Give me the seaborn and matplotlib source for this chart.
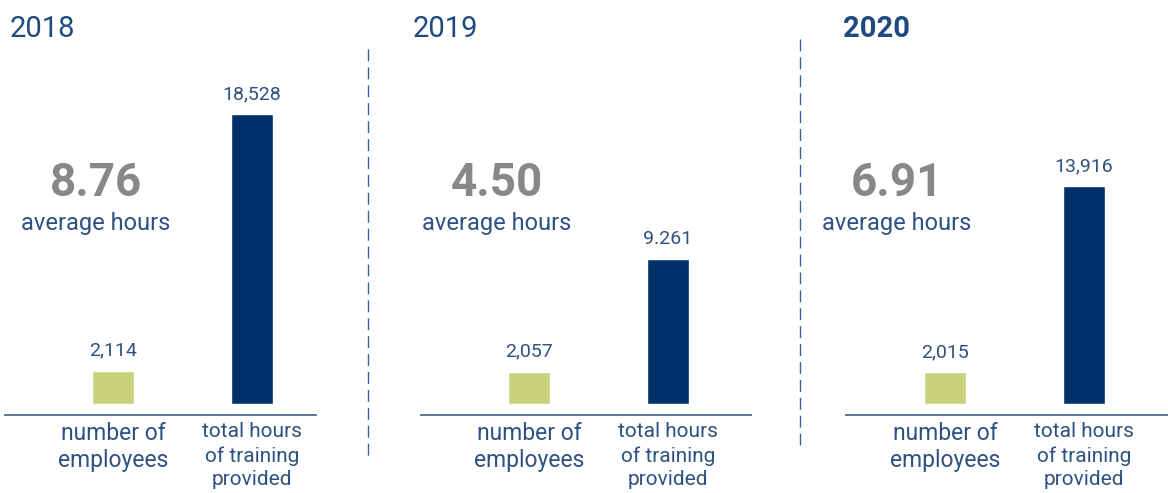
import matplotlib
matplotlib.use("Agg")
import matplotlib.pyplot as plt
from matplotlib.lines import Line2D
import seaborn as sns
import pandas as pd

# Data
years = ["2018", "2019", "2020"]
categories = ["number of\nemployees", "total hours\nof training\nprovided"]
employees = [2114, 2057, 2015]
training_hours = [18528, 9261, 13916]
average_hours = ["8.76", "4.50", "6.91"]
employee_labels = ["2,114", "2,057", "2,015"]
hours_labels = ["18,528", "9.261", "13,916"]

sns.set_style("white")
plt.rcParams["font.family"] = ["Roboto", "DejaVu Sans"]

NAVY = "#00316a"
GREEN = "#c8d27b"
TEXT = "#2e5181"
TITLE = "#1f4a80"
GREY = "#88888b"
RULE = "#4a6a93"

W, H = 1168, 493
fig = plt.figure(figsize=(W / 100, H / 100), dpi=100)


def fx(px):
    return px / W


def fy(py):
    return 1 - py / H


# panel geometry in pixels: baseline start/end, first bar centre, title x, average text centre
panels = [
    dict(start=5, end=316, c0=113, title_x=10, avg_x=96, bold=False),
    dict(start=421, end=751, c0=529, title_x=413, avg_x=497, bold=False),
    dict(start=846, end=1168, c0=945, title_x=843, avg_x=897, bold=True),
]
STEP = 139          # pixel distance between the two bars
BAR_W = 42 / STEP   # bar width in category units
TOP, BOTTOM = 114, 404
ymax = max(training_hours)

for i, p in enumerate(panels):
    ax = fig.add_axes([fx(p["start"]), fy(BOTTOM), fx(p["end"] - p["start"]),
                       (BOTTOM - TOP) / H])
    df = pd.DataFrame({"category": categories,
                       "value": [employees[i], training_hours[i]]})
    sns.barplot(data=df, x="category", y="value", hue="category",
                palette=[GREEN, NAVY], width=BAR_W, ax=ax, legend=False,
                saturation=1)
    ax.set_xlim((p["start"] - p["c0"]) / STEP,
                1 + (p["end"] - (p["c0"] + STEP)) / STEP)
    ax.set_ylim(0, ymax)
    ax.set_xlabel("")
    ax.set_ylabel("")
    ax.set_yticks([])
    for s in ["top", "right", "left"]:
        ax.spines[s].set_visible(False)
    ax.spines["bottom"].set_position(("outward", 8))
    ax.spines["bottom"].set_color(RULE)
    ax.spines["bottom"].set_linewidth(1.3)
    ax.tick_params(axis="x", length=0, pad=5)
    ticklabels = ax.get_xticklabels()
    for t, fs in zip(ticklabels, [16.5, 15]):
        t.set_fontsize(fs)
        t.set_color(TEXT)
        t.set_linespacing(1.22 if fs > 16 else 1.32)
    ax.patch.set_alpha(0)

    for cont, lab in zip(ax.containers, [employee_labels[i], hours_labels[i]]):
        ax.bar_label(cont, labels=[lab], padding=8, fontsize=14, color=TEXT)

    # year heading
    fig.text(fx(p["title_x"]), fy(37), years[i], fontsize=21, color=TITLE,
             fontweight="bold" if p["bold"] else "normal", va="baseline", ha="left")
    # average hours figure
    fig.text(fx(p["avg_x"]), fy(196), average_hours[i], fontsize=33, color=GREY,
             fontweight="bold", va="baseline", ha="center")
    fig.text(fx(p["avg_x"]), fy(230), "average hours", fontsize=17, color=TEXT,
             va="baseline", ha="center")

# dashed separators between years
for x, y0, y1 in [(368, 49, 456), (800.5, 39, 445)]:
    fig.add_artist(Line2D([fx(x), fx(x)], [fy(y0), fy(y1)], transform=fig.transFigure,
                          color="#3a6196", linewidth=1.0, linestyle=(0, (8.6, 4.3))))

fig.savefig("out.png", dpi=100)
